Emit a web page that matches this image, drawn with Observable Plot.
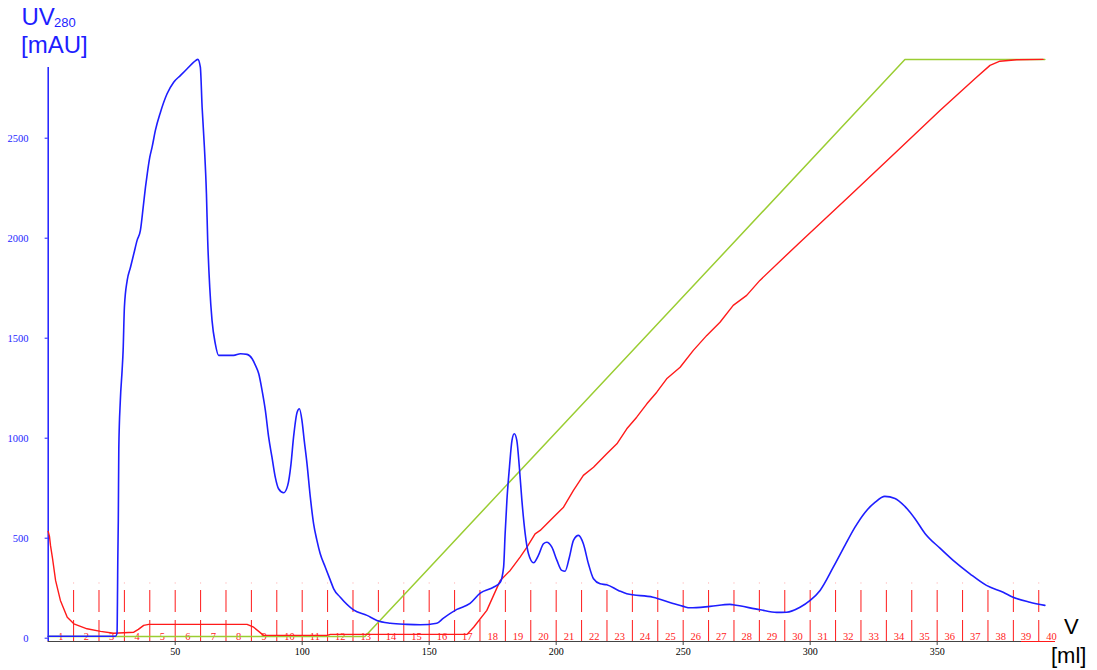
<!DOCTYPE html>
<html>
<head>
<meta charset="utf-8">
<script src="https://cdn.jsdelivr.net/npm/d3@7"></script>
<script src="https://cdn.jsdelivr.net/npm/@observablehq/plot@0.6"></script>
<style>
  html, body { margin: 0; padding: 0; background: #fff; }
  #wrap { position: relative; width: 1097px; height: 670px; overflow: hidden; }
  .lbl { position: absolute; white-space: nowrap; font-family: "Liberation Sans", Arial, sans-serif; }
</style>
</head>
<body>
<div id="wrap">
  <div id="chart"></div>
  <div class="lbl" style="left:21.5px; top:5px; font-size:24px; line-height:24px; color:#1e1eff;">UV</div>
  <div class="lbl" style="left:54px; top:16px; font-size:13px; line-height:13px; color:#1e1eff;">280</div>
  <div class="lbl" style="left:21px; top:33px; font-size:24px; line-height:24px; color:#1e1eff;">[mAU]</div>
  <div class="lbl" style="left:1064px; top:616px; font-size:22px; line-height:22px; color:#000;">V</div>
  <div class="lbl" style="left:1051px; top:645px; font-size:22px; line-height:22px; color:#000;">[ml]</div>
</div>
<script>
// UV 280 absorbance (mAU) vs volume (ml)
const uvMl  = [0, 26.5, 27.1, 27.3, 27.4, 27.6, 27.8, 28.4, 29.1, 29.5, 30.0, 31.1, 32.4, 33.7, 35.0, 36.3, 37.4, 38.3, 39.0, 40.0, 40.9, 42.2, 44.2, 46.8, 49.4, 52.1, 54.7, 57.3, 58.9, 59.9, 60.6, 61.5, 62.3, 62.8, 63.6, 64.5, 65.8, 67.1, 67.8, 73.0, 75.7, 78.3, 80.3, 81.6, 82.9, 84.2, 85.5, 86.8, 88.1, 89.4, 90.7, 92.7, 94.3, 95.6, 96.6, 98.0, 98.9, 99.9, 100.8, 101.9, 103.2, 104.5, 105.8, 107.1, 109.1, 111.1, 112.4, 115.0, 120.2, 125.5, 129.4, 134.7, 141.2, 146.5, 153.0, 155.5, 160.9, 166.1, 170.1, 175.3, 178.0, 179.3, 179.9, 180.6, 181.6, 182.6, 183.5, 184.5, 185.5, 186.5, 187.8, 189.1, 191.1, 193.0, 195.0, 196.3, 198.3, 200.3, 202.2, 203.5, 205.2, 206.8, 208.8, 210.7, 212.7, 214.7, 217.3, 219.9, 224.5, 227.8, 238.1, 246.0, 250.1, 252.7, 260.6, 268.4, 269.6, 280.3, 286.8, 290.7, 296.0, 300.0, 303.9, 309.1, 313.7, 317.6, 321.6, 325.5, 329.4, 333.4, 337.3, 341.2, 345.2, 351.1, 356.3, 362.9, 369.4, 376.0, 379.9, 386.5, 392.4];
const uvMau = [10, 10, 24, 239, 389, 589, 949, 1189, 1339, 1439, 1655, 1789, 1855, 1922, 1989, 2039, 2155, 2255, 2322, 2405, 2455, 2539, 2630, 2722, 2780, 2814, 2847, 2880, 2894, 2855, 2655, 2455, 2222, 1989, 1755, 1589, 1472, 1414, 1414, 1414, 1422, 1419, 1397, 1364, 1322, 1239, 1139, 1005, 905, 805, 747, 727, 764, 872, 1005, 1130, 1147, 1089, 989, 872, 705, 572, 489, 422, 355, 289, 247, 205, 142, 114, 89, 75, 69, 67, 75, 99, 144, 174, 225, 255, 280, 355, 522, 689, 855, 989, 1022, 989, 855, 689, 522, 422, 377, 414, 472, 480, 455, 389, 339, 335, 405, 489, 514, 472, 372, 297, 272, 267, 239, 222, 205, 174, 159, 152, 159, 169, 167, 142, 129, 130, 155, 189, 239, 355, 464, 554, 629, 679, 709, 699, 659, 599, 524, 450, 389, 322, 264, 230, 205, 180, 164];

// Conductivity trace (drawn on the mAU scale)
const condMl  = [0, 0.5, 0.9, 1.7, 2.9, 4.8, 7.5, 10.1, 15.3, 20.6, 25.8, 33.7, 35.5, 37.6, 39.6, 78.3, 80.9, 84.8, 109.8, 111.1, 164.9, 167.5, 172.7, 178.0, 181.9, 185.8, 188.5, 191.7, 193.7, 198.9, 202.9, 206.8, 210.7, 214.7, 219.9, 223.9, 227.8, 231.7, 235.7, 239.6, 243.5, 248.8, 254.0, 259.3, 264.5, 269.7, 275.0, 280.2, 295.9, 315.7, 335.3, 351.1, 359.0, 365.5, 370.8, 374.7, 381.3, 391.7];
const condVal = [534, 509, 464, 399, 289, 189, 105, 72, 47, 34, 25, 30, 44, 64, 69, 69, 55, 14, 14, 19, 19, 55, 139, 289, 339, 405, 455, 522, 539, 605, 655, 739, 814, 855, 922, 972, 1047, 1105, 1172, 1230, 1297, 1355, 1439, 1514, 1580, 1664, 1714, 1789, 1979, 2214, 2449, 2639, 2730, 2805, 2864, 2885, 2892, 2894];

// Gradient (%B) trace (drawn on the mAU scale)
const gradMl  = [0, 124.7, 146.5, 196.3, 257.3, 337.3, 392.4];
const gradVal = [8, 8, 304, 980, 1807, 2894, 2894];

// Axes and fractions
const yTicks = [0, 500, 1000, 1500, 2000, 2500];
const xTicks = [50, 100, 150, 200, 250, 300, 350];
const fractionEdges = [0, 10, 20, 30, 40, 50, 60, 70, 80, 90, 100, 110, 120, 130, 140, 150, 160, 170, 180, 190, 200, 210, 220, 230, 240, 250, 260, 270, 280, 290, 300, 310, 320, 330, 340, 350, 360, 370, 380, 390, 400];
const fractionLabels = ["1","2","3","4","5","6","7","8","9","10","11","12","13","14","15","16","17","18","19","20","21","22","23","24","25","26","27","28","29","30","31","32","33","34","35","36","37","38","39","40"];

const BLUE = "#1e1eff", RED = "#ff1a1a", GREEN = "#9acd32";

const uv = uvMl.map((x, i) => ({x, y: uvMau[i]}));
const cond = condMl.map((x, i) => ({x, y: condVal[i]}));
const grad = gradMl.map((x, i) => ({x, y: gradVal[i]}));
const boundaries = fractionEdges.slice(1, -1);
const fractions = fractionLabels.map((t, i) => ({t, x: (fractionEdges[i] + fractionEdges[i + 1]) / 2}));

const chart = Plot.plot({
  width: 1097,
  height: 670,
  marginLeft: 47.7,
  marginRight: 43.5,
  marginTop: 67,
  marginBottom: 32.3,
  x: {domain: [0, 396], axis: null},
  y: {domain: [0, 2853.5], axis: null},
  style: {background: "white", overflow: "visible"},
  marks: [
    // fraction marker lines
    Plot.ruleX(boundaries, {x: d => d, y1: 272.5, y2: 274.5, stroke: RED, strokeWidth: 1}),
    Plot.ruleX(boundaries, {x: d => d, y1: 128.5, y2: 238.5, stroke: RED, strokeWidth: 1}),
    Plot.ruleX(boundaries, {x: d => d, y1: -21.5, y2: 88.5, stroke: RED, strokeWidth: 1}),
    Plot.text(fractions, {x: "x", y: 0, dy: -1.7, text: "t", fill: RED, fontSize: 10.5, fontFamily: "Liberation Serif"}),
    // baseline
    Plot.ruleY([0], {x1: 0, x2: 396.6, dy: 3.3, stroke: RED, strokeWidth: 1.2}),
    Plot.ruleY([0], {x1: 0, x2: 383.2, dy: 3.3, stroke: "#444", strokeWidth: 1.2}),
    Plot.ruleX(xTicks, {x: d => d, y1: -16.5, y2: -36.5, stroke: "#444"}),
    Plot.text(xTicks, {x: d => d, frameAnchor: "bottom", lineAnchor: "top", dy: 9.5, text: d => String(d), fill: "#000", fontSize: 10, fontFamily: "Liberation Serif"}),
    // y axis
    Plot.ruleX([0], {y1: -16.5, y2: 2853.5, stroke: BLUE, strokeWidth: 1.5}),
    Plot.ruleY(yTicks, {y: d => d, x1: -1.2, x2: 0, stroke: BLUE, strokeWidth: 1}),
    Plot.text(yTicks, {y: d => d, frameAnchor: "left", textAnchor: "end", dx: -19.7, text: d => String(d), fill: BLUE, fontSize: 10.5, fontFamily: "Liberation Serif"}),
    // traces
    Plot.line(grad, {x: "x", y: "y", stroke: GREEN, strokeWidth: 1.5}),
    Plot.line(cond, {x: "x", y: "y", stroke: RED, strokeWidth: 1.4}),
    Plot.line(uv, {x: "x", y: "y", stroke: BLUE, strokeWidth: 1.6, curve: "monotone-x"})
  ]
});
document.getElementById("chart").appendChild(chart);
</script>
</body>
</html>
